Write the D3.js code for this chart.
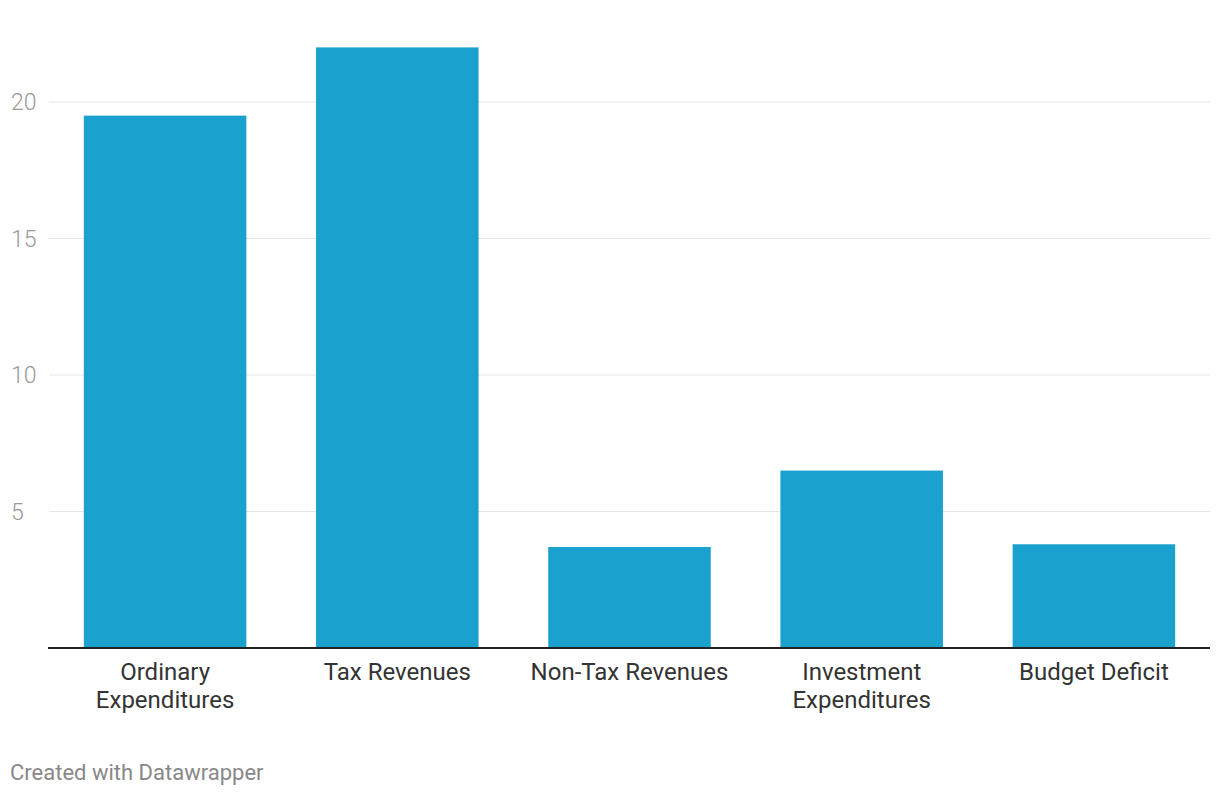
<!DOCTYPE html>
<html><head><meta charset="utf-8">
<script src="https://cdn.jsdelivr.net/npm/d3@7"></script>
<style>body{margin:0;background:#fff;font-family:Roboto,sans-serif;}</style>
</head><body><svg id="c" width="1220" height="796"></svg>
<script>
const categories = [["Ordinary","Expenditures"],["Tax Revenues"],["Non-Tax Revenues"],["Investment","Expenditures"],["Budget Deficit"]];
const values = [19.5, 22, 3.7, 6.5, 3.8];
const yTicks = [5, 10, 15, 20];

const svg = d3.select("#c");
const x = d3.scaleBand().domain(categories.map((d,i)=>i)).range([49,1210]).paddingInner(0.3).paddingOuter(0.15);
const y = d3.scaleLinear().domain([0,20]).range([648,102]);

const g = svg.append("g");
g.selectAll("line.grid").data(yTicks).join("line")
  .attr("x1",49).attr("x2",1210).attr("y1",d=>y(d)).attr("y2",d=>y(d))
  .attr("stroke","#e5e5e5").attr("stroke-width",1.2);
g.selectAll("text.yt").data(yTicks).join("text")
  .attr("x",11).attr("y",d=>y(d)+8).attr("font-size",23).attr("font-weight",300).attr("fill","#999").text(d=>d);

g.selectAll("rect").data(values).join("rect")
  .attr("x",(d,i)=>x(i)).attr("width",x.bandwidth())
  .attr("y",d=>y(d)).attr("height",d=>y(0)-y(d)).attr("fill","#1aa1cd");

g.append("line").attr("x1",48).attr("x2",1210).attr("y1",y(0)).attr("y2",y(0)).attr("stroke","#222").attr("stroke-width",2);

categories.forEach((lines,i)=>{
  const t = g.append("text").attr("x",x(i)+x.bandwidth()/2).attr("text-anchor","middle").attr("font-size",24).attr("fill","#333");
  lines.forEach((l,j)=>t.append("tspan").attr("x",x(i)+x.bandwidth()/2).attr("y",680+j*28).text(l));
});

svg.append("text").attr("x",10).attr("y",780).attr("font-size",22).attr("fill","#888").text("Created with Datawrapper");
</script></body></html>
